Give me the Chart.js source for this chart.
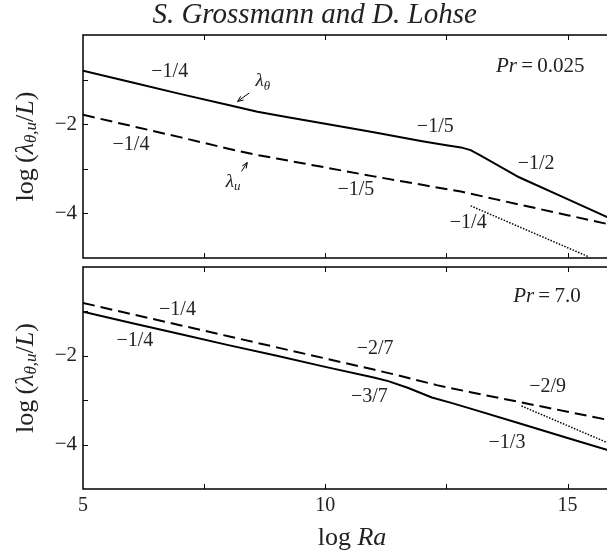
<!DOCTYPE html>
<html>
<head>
<meta charset="utf-8">
<script src="https://cdn.jsdelivr.net/npm/chart.js@4.4.1/dist/chart.umd.min.js"></script>
<style>
html, body { margin: 0; padding: 0; background: #fff; overflow: hidden; width: 607px; height: 555px; }
#wrap { position: relative; width: 620px; height: 555px; }
canvas { position: absolute; left: 0; }
#cTop { top: 0; }
#cBot { top: 262px; }
</style>
</head>
<body>
<div id="wrap">
  <canvas id="cTop" width="620" height="262"></canvas>
  <canvas id="cBot" width="620" height="293"></canvas>
</div>
<script>
// Pr = 0.025 panel (log Ra vs log of length scale)
const lowThetaX = [5, 6, 7, 8, 8.6, 9.2, 10, 11, 12, 12.5, 12.8, 13.0, 13.2, 14, 15, 16];
const lowThetaY = [-0.80, -1.06, -1.32, -1.57, -1.72, -1.84, -1.99, -2.18, -2.38, -2.47, -2.52, -2.58, -2.70, -3.19, -3.68, -4.17];
const lowUX = [5, 6, 7, 8, 8.5, 9, 10, 11, 12, 12.8, 13.5, 14, 15, 16];
const lowUY = [-1.79, -2.04, -2.29, -2.55, -2.67, -2.77, -2.97, -3.17, -3.36, -3.51, -3.68, -3.80, -4.04, -4.28];
const lowRefX = [13.0, 15.43];
const lowRefY = [-3.83, -4.97];

// Pr = 7.0 panel
const highThetaX = [5, 6, 7, 8, 9, 10, 11, 11.3, 11.7, 12.2, 12.6, 13, 14, 15, 16];
const highThetaY = [-1.01, -1.26, -1.51, -1.76, -2.00, -2.25, -2.49, -2.57, -2.72, -2.94, -3.06, -3.19, -3.52, -3.85, -4.18];
const highUX = [5, 6, 7, 8, 9, 10, 11, 11.5, 12.3, 13, 14, 15, 16];
const highUY = [-0.81, -1.06, -1.31, -1.56, -1.81, -2.06, -2.31, -2.44, -2.66, -2.82, -3.04, -3.26, -3.48];
const highRefX = [14.05, 16];
const highRefY = [-3.13, -4.04];

// tick labels
const xTickLabels = [5, 10, 15];
const yTickLabels = [-2, -4];

// slope annotations
const lowSlopeText = ['−1/4', '−1/4', '−1/5', '−1/5', '−1/2', '−1/4'];
const lowSlopeX = [6.79, 5.99, 12.27, 10.63, 14.35, 12.95];
const lowSlopeY = [-0.82, -2.46, -2.05, -3.46, -2.88, -4.22];
const highSlopeText = ['−1/4', '−1/4', '−2/7', '−3/7', '−2/9', '−1/3'];
const highSlopeX = [6.95, 6.07, 11.03, 10.91, 14.59, 13.75];
const highSlopeY = [-0.96, -1.65, -1.84, -2.92, -2.70, -3.96];

const SERIF = '"Liberation Serif", "DejaVu Serif", serif';
const INK = '#222';
const TS = '\u2009';

function pts(xs, ys) {
    return xs.map((x, i) => ({ x: x, y: ys[i] }));
}

function fontOf(s) {
    return (s[1] ? 'italic ' : '') + s[2] + 'px ' + SERIF;
}

// draw a run of text pieces: [text, italic, size, dy]
function drawRich(ctx, segs, x, y, align) {
    let w = 0;
    segs.forEach(s => { ctx.font = fontOf(s); w += ctx.measureText(s[0]).width; });
    let cx = align === 'right' ? x - w : (align === 'center' ? x - w / 2 : x);
    ctx.textAlign = 'left';
    ctx.textBaseline = 'middle';
    segs.forEach(s => {
        ctx.font = fontOf(s);
        ctx.fillText(s[0], cx, y + (s[3] || 0));
        cx += ctx.measureText(s[0]).width;
    });
}

function arrow(ctx, x0, y0, x1, y1) {
    const a = Math.atan2(y1 - y0, x1 - x0);
    ctx.beginPath();
    ctx.moveTo(x0, y0);
    ctx.lineTo(x1, y1);
    ctx.stroke();
    ctx.beginPath();
    ctx.moveTo(x1, y1);
    ctx.lineTo(x1 - 6 * Math.cos(a - 0.4), y1 - 6 * Math.sin(a - 0.4));
    ctx.moveTo(x1, y1);
    ctx.lineTo(x1 - 6 * Math.cos(a + 0.4), y1 - 6 * Math.sin(a + 0.4));
    ctx.stroke();
}

const yTitle = [['log', false, 26], [TS + '(', false, 26], ['λ', true, 26], ['θ,u', true, 17, 6], ['/', false, 26], ['L', true, 26], [')', false, 26]];

// frame, inward ticks and text drawn on top of the datasets
const framePlugin = {
    id: 'frame',
    afterDatasetsDraw(chart, args, opts) {
        const ctx = chart.ctx;
        const a = chart.chartArea;
        const xs = chart.scales.x, ys = chart.scales.y;
        ctx.save();
        ctx.strokeStyle = '#000';
        ctx.lineWidth = 1.5;
        ctx.strokeRect(a.left, a.top, a.right - a.left, a.bottom - a.top);
        ctx.lineWidth = 1;
        ctx.beginPath();
        xs.ticks.forEach(t => {
            if (t.value <= xs.min || t.value >= xs.max) return;
            const px = Math.round(xs.getPixelForValue(t.value)) + 0.5;
            ctx.moveTo(px, a.top); ctx.lineTo(px, a.top + 5);
            ctx.moveTo(px, a.bottom); ctx.lineTo(px, a.bottom - 5);
        });
        ys.ticks.forEach(t => {
            if (t.value <= ys.min || t.value >= ys.max) return;
            const py = Math.round(ys.getPixelForValue(t.value)) + 0.5;
            ctx.moveTo(a.left, py); ctx.lineTo(a.left + 5, py);
            ctx.moveTo(a.right, py); ctx.lineTo(a.right - 5, py);
        });
        ctx.stroke();

        ctx.fillStyle = INK;
        opts.slopeText.forEach((txt, i) => {
            drawRich(ctx, [[txt, false, 20]], xs.getPixelForValue(opts.slopeX[i]), ys.getPixelForValue(opts.slopeY[i]), 'center');
        });
        drawRich(ctx, opts.pr, xs.getPixelForValue(opts.prX), ys.getPixelForValue(opts.prY), 'right');

        ctx.save();
        ctx.translate(26, (a.top + a.bottom) / 2);
        ctx.rotate(-Math.PI / 2);
        drawRich(ctx, yTitle, 0, 0, 'center');
        ctx.restore();

        if (opts.extra) opts.extra(ctx, xs, ys, a);
        ctx.restore();
    }
};

function makeChart(id, datasets, padTop, xHeight, showX, notes) {
    return new Chart(document.getElementById(id), {
        type: 'line',
        data: { datasets: datasets },
        options: {
            responsive: false,
            animation: false,
            devicePixelRatio: 1,
            layout: { padding: { top: padTop, right: 4, left: 0, bottom: 0 } },
            plugins: { legend: { display: false }, tooltip: { enabled: false }, frame: notes },
            elements: { point: { radius: 0 }, line: { tension: 0 } },
            scales: {
                x: {
                    type: 'linear', min: 5, max: 16,
                    grid: { display: false, drawTicks: false },
                    border: { display: false },
                    ticks: {
                        display: showX, stepSize: 2.5, autoSkip: false, maxRotation: 0, padding: 5,
                        color: INK, font: { family: SERIF, size: 20 },
                        callback: v => xTickLabels.includes(v) ? String(v) : ''
                    },
                    afterFit: s => { s.height = xHeight; s.paddingLeft = 0; s.paddingRight = 0; }
                },
                y: {
                    min: -5, max: 0,
                    grid: { display: false, drawTicks: false },
                    border: { display: false },
                    ticks: {
                        stepSize: 1, autoSkip: false, padding: 6,
                        color: INK, font: { family: SERIF, size: 21 },
                        callback: v => yTickLabels.includes(v) ? '−' + Math.abs(v) : ''
                    },
                    afterFit: s => { s.width = 83; s.paddingTop = 0; s.paddingBottom = 0; }
                }
            }
        },
        plugins: [framePlugin]
    });
}

function lineSet(xs, ys, dash, width) {
    return { data: pts(xs, ys), borderColor: '#000', borderWidth: width, borderDash: dash, fill: false, pointRadius: 0 };
}

makeChart('cTop', [
    lineSet(lowThetaX, lowThetaY, [], 2),
    lineSet(lowUX, lowUY, [12, 6], 2),
    lineSet(lowRefX, lowRefY, [1.5, 1.5], 1.5)
], 35, 4, false, {
    slopeText: lowSlopeText, slopeX: lowSlopeX, slopeY: lowSlopeY,
    pr: [['Pr', true, 21], [TS + '=' + TS, false, 21], ['0.025', false, 21]], prX: 15.35, prY: -0.70,
    extra: (ctx, xs, ys, a) => {
        drawRich(ctx, [['S. Grossmann and D. Lohse', true, 29]], 314.6, 15, 'center');
        drawRich(ctx, [['λ', true, 19], ['θ', true, 13, 5]], xs.getPixelForValue(8.71), ys.getPixelForValue(-1.04), 'center');
        drawRich(ctx, [['λ', true, 19], ['u', true, 13, 5]], xs.getPixelForValue(8.10), ys.getPixelForValue(-3.29), 'center');
        ctx.strokeStyle = '#000';
        ctx.lineWidth = 1;
        arrow(ctx, xs.getPixelForValue(8.43), ys.getPixelForValue(-1.30), xs.getPixelForValue(8.19), ys.getPixelForValue(-1.49));
        arrow(ctx, xs.getPixelForValue(8.27), ys.getPixelForValue(-3.06), xs.getPixelForValue(8.39), ys.getPixelForValue(-2.86));
    }
});

makeChart('cBot', [
    lineSet(highThetaX, highThetaY, [], 2),
    lineSet(highUX, highUY, [12, 6], 2),
    lineSet(highRefX, highRefY, [1.5, 1.5], 1.5)
], 5, 66, true, {
    slopeText: highSlopeText, slopeX: highSlopeX, slopeY: highSlopeY,
    pr: [['Pr', true, 21], [TS + '=' + TS, false, 21], ['7.0', false, 21]], prX: 15.27, prY: -0.66,
    extra: (ctx, xs, ys, a) => {
        drawRich(ctx, [['log ', false, 26], ['Ra', true, 26]], 352, 276, 'center');
    }
});
</script>
</body>
</html>
